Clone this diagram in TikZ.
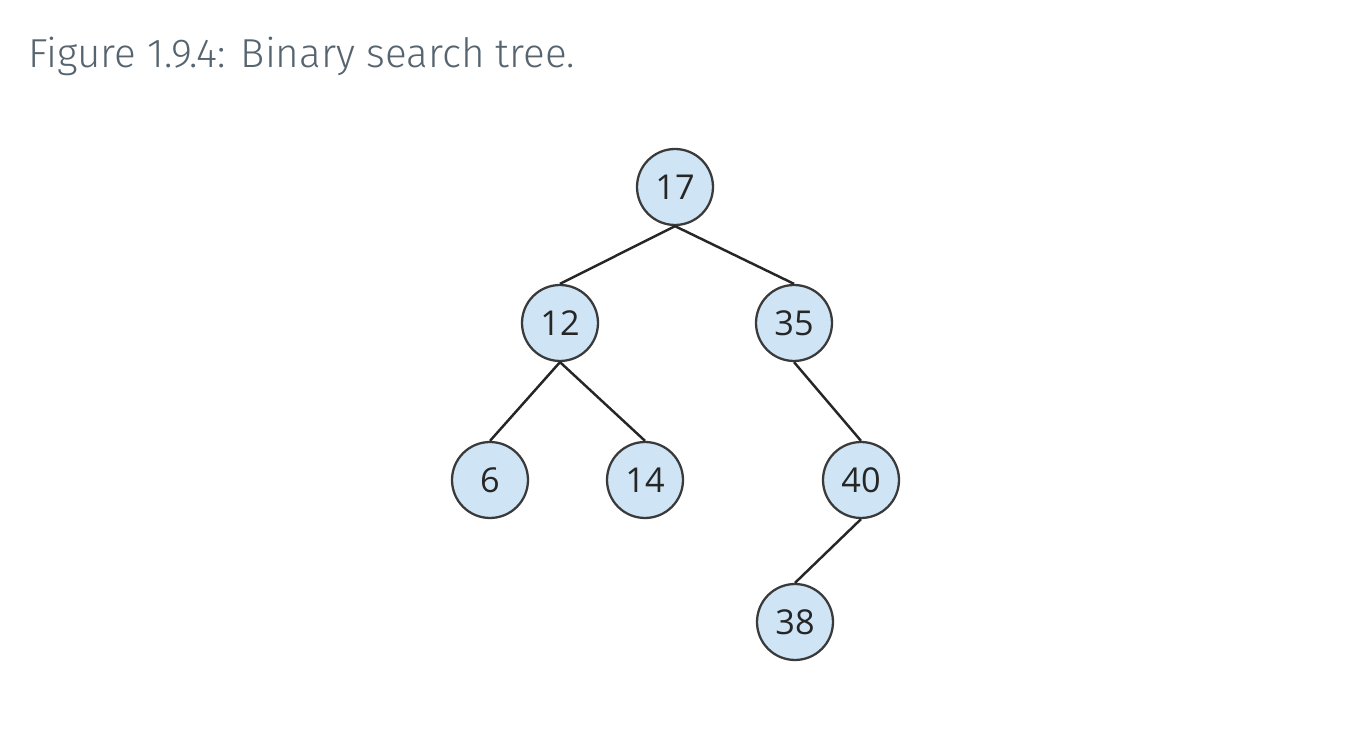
\documentclass[tikz,border=0pt]{standalone}
\usepackage{fontspec}
\setmainfont{Open Sans}
\newfontfamily\captionfont{Fira Sans Light}
\usepackage{tikz}
\usetikzlibrary{calc,positioning}
\usepackage{xcolor}
\definecolor{nodefill}{HTML}{CFE5F5}
\definecolor{nodeline}{HTML}{3A3A3A}
\definecolor{captiongray}{HTML}{56646F}

\begin{document}
\begin{tikzpicture}[x=0.02cm, y=-0.02cm,
    treenode/.style={circle, fill=nodefill, draw=nodeline, line width=1.3pt,
        inner sep=0pt, minimum size=1.52cm, font=\fontsize{19.5}{22}\selectfont,
        text=black!85},
    treeedge/.style={line width=1.4pt, black!85}]
    % Fix the page size
    \useasboundingbox (0,0) rectangle (1350,742);
    % Draw the caption
    \node[anchor=base west, inner sep=0pt, text=captiongray,
        font=\captionfont\fontsize{23}{28}\selectfont] (caption) at (28,68) {Figure 1.9.4: Binary search tree.};
    % Draw the nodes of the tree
    \node[treenode] (n17) at (675,187) {17};
    \node[treenode] (n12) at (560,323) {12};
    \node[treenode] (n35) at (794,323) {35};
    \node[treenode] (n6) at (490,480) {6};
    \node[treenode] (n14) at (645,480) {14};
    \node[treenode] (n40) at (861,480) {40};
    \node[treenode] (n38) at (795,622) {38};
    % Draw the edges between them
    \draw[treeedge] (n17.south) -- (n12.north);
    \draw[treeedge] (n17.south) -- (n35.north);
    \draw[treeedge] (n12.south) -- (n6.north);
    \draw[treeedge] (n12.south) -- (n14.north);
    \draw[treeedge] (n35.south) -- (n40.north);
    \draw[treeedge] (n40.south) -- (n38.north);
\end{tikzpicture}
\end{document}
